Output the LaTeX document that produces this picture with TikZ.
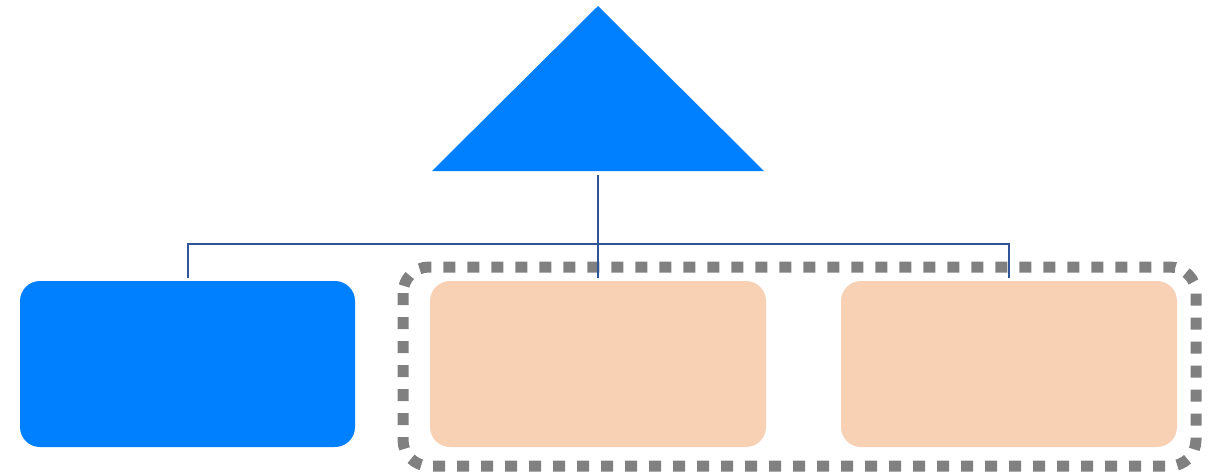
\documentclass[tikz,border=0pt]{standalone}
\definecolor{bblue}{RGB}{0,127,255}
\definecolor{peach}{RGB}{248,209,180}
\definecolor{lineblue}{RGB}{47,85,151}
\definecolor{dgray}{RGB}{128,128,128}
\tikzset{
  boxblue/.style={rectangle, rounded corners=20pt, fill=bblue, minimum width=335pt, minimum height=166pt, inner sep=0pt},
  boxpeach/.style={rectangle, rounded corners=20pt, fill=peach, minimum width=336pt, minimum height=166pt, inner sep=0pt},
  conn/.style={draw=lineblue, line width=2pt},
  grp/.style={draw=dgray, line width=11pt, dash pattern=on 12pt off 12pt, rounded corners=26pt}
}
\begin{document}
\begin{tikzpicture}[x=1pt,y=-1pt]
\useasboundingbox (0,0) rectangle (1218,475);
\fill[bblue] (432,171) -- (598,6) -- (764,171) -- cycle;
\coordinate (tri) at (598,175);
\coordinate (bus) at (598,243.5);
\node[boxblue] (b1) at (187.5,364) {};
\node[boxpeach] (b2) at (598,364) {};
\node[boxpeach] (b3) at (1009,364) {};
\draw[grp] (403,267) rectangle (1196,466);
\draw[conn] ([yshift=3pt]b1.north) |- (bus) -| ([yshift=3pt]b3.north);
\draw[conn] (tri) -- ([yshift=3pt]b2.north);
\end{tikzpicture}
\end{document}
